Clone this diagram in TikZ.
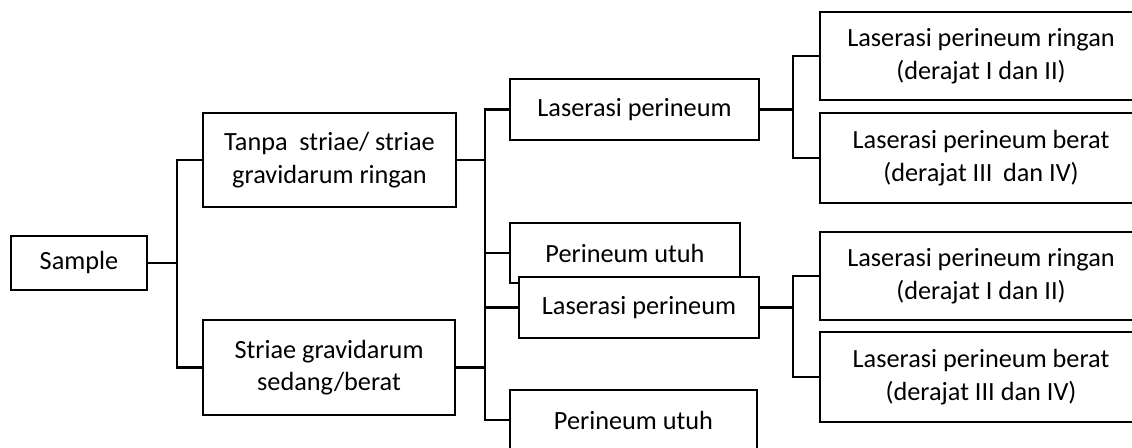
\documentclass[tikz,border=0pt]{standalone}
\usepackage{fontspec}
\setmainfont{Carlito}
\begin{document}
\begin{tikzpicture}[x=0.75pt,y=-0.75pt,
  box/.style={draw, fill=white, line width=1.6pt, align=center, inner sep=0pt,
    font=\fontsize{19.7}{24.5}\selectfont},
  link/.style={line width=1.6pt}]
\useasboundingbox (0,0) rectangle (1132,448);
\clip (0,0) rectangle (1132,448);
% left column
\node[box, minimum width=102pt, minimum height=40.5pt] (sample) at (79,263) {Sample};
\node[box, minimum width=189.75pt, minimum height=70.5pt] (tanpa) at (329.5,160) {Tanpa\hspace{0.45em}striae/ striae\\gravidarum ringan};
\node[box, minimum width=189pt, minimum height=71.25pt] (striae) at (329,367.5) {Striae gravidarum\\sedang/berat};
% middle column
\node[box, minimum width=186.75pt, minimum height=45.75pt] (lp1) at (634.5,109.5) {Laserasi perineum};
\node[box, minimum width=172.5pt, minimum height=45pt] (pu1) at (625,253) {Perineum utuh};
\node[box, minimum width=180pt, minimum height=45.75pt] (lp2) at (639,307.5) {Laserasi perineum};
\node[box, minimum width=185.25pt, minimum height=45pt] (pu2) at (633.5,420) {Perineum utuh};
% right column
\node[box, minimum width=241.5pt, minimum height=66pt] (r1) at (981,56) {Laserasi perineum ringan\\(derajat I dan II)};
\node[box, minimum width=241.5pt, minimum height=67.5pt] (r2) at (981,158) {Laserasi perineum berat\\(derajat III\hspace{0.4em}dan IV)};
\node[box, minimum width=241.5pt, minimum height=66pt] (r3) at (981,276) {Laserasi perineum ringan\\(derajat I dan II)};
\node[box, minimum width=241.5pt, minimum height=67.5pt] (r4) at (981,377) {Laserasi perineum berat\\(derajat III dan IV)};
% junction columns
\coordinate (ja) at (177,0);
\coordinate (jb) at (485,0);
\coordinate (jc) at (793,0);
% connectors
\draw[link] (sample.east) -- (ja |- sample.east);
\draw[link] (tanpa.west) -| (ja |- striae.west) -- (striae.west);
\draw[link] (tanpa.east) -- (jb |- tanpa.east);
\draw[link] (striae.east) -- (jb |- striae.east);
\draw[link] (lp1.west) -| (jb |- pu2.west) -- (pu2.west);
\draw[link] (pu1.west) -- (jb |- pu1.west);
\draw[link] (lp2.west) -- (jb |- lp2.west);
\draw[link] (lp1.east) -- (jc |- lp1.east);
\draw[link] (r1.west) -| (jc |- r2.west) -- (r2.west);
\draw[link] (lp2.east) -- (jc |- lp2.east);
\draw[link] (r3.west) -| (jc |- r4.west) -- (r4.west);
\end{tikzpicture}
\end{document}
